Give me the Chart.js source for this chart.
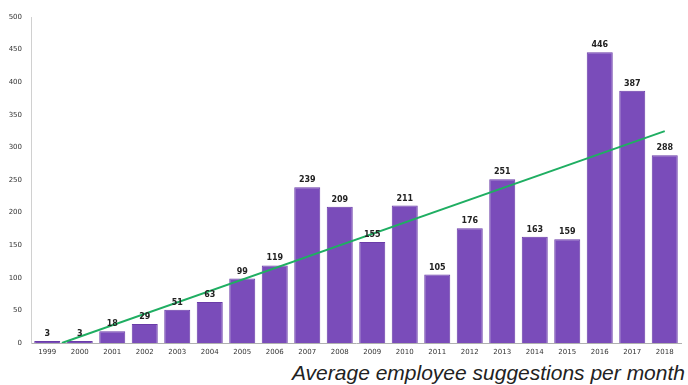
<!DOCTYPE html>
<html>
<head>
<meta charset="utf-8">
<script src="https://cdn.jsdelivr.net/npm/chart.js@4"></script>
<style>
  html, body { margin: 0; padding: 0; background: #fff; }
  #wrap { position: relative; width: 688px; height: 385px; overflow: hidden; }
  #box { position: absolute; left: 0; top: 0; width: 688px; height: 360px; }
  #caption {
    position: absolute; right: 3px; top: 361px;
    font: italic 21px "Liberation Sans", Arial, sans-serif; color: #222;
    white-space: nowrap;
  }
</style>
</head>
<body>
<div id="wrap">
  <div id="box"><canvas id="chart"></canvas></div>
  <div id="caption">Average employee suggestions per month</div>
</div>
<script>
// categories + values
const years = ["1999","2000","2001","2002","2003","2004","2005","2006","2007","2008",
               "2009","2010","2011","2012","2013","2014","2015","2016","2017","2018"];
const suggestions = [3, 3, 18, 29, 51, 63, 99, 119, 239, 209,
                     155, 211, 105, 176, 251, 163, 159, 446, 387, 288];

// trend line end points (category index, value) as seen in the picture
const trendIndex = [0.45, 19];
const trendValue = [0, 325];

const yTicks = { min: 0, max: 500, step: 50 };

/* ---------- value labels above bars ---------- */
const barLabels = {
  id: "barLabels",
  afterDatasetsDraw(chart) {
    const ctx = chart.ctx;
    const meta = chart.getDatasetMeta(0);
    ctx.save();
    ctx.font = "bold 8px 'DejaVu Sans', sans-serif";
    ctx.fillStyle = "#222";
    ctx.textAlign = "center";
    ctx.textBaseline = "bottom";
    meta.data.forEach((bar, i) => {
      ctx.fillText(suggestions[i], bar.x, bar.y - 3);
    });
    ctx.restore();
  }
};

const tickFont = { family: "'DejaVu Sans', sans-serif", size: 7 };

new Chart(document.getElementById("chart"), {
  type: "bar",
  data: {
    labels: years,
    datasets: [{
      type: "bar",
      data: suggestions,
      backgroundColor: "#7a4cba",
      borderColor: "#6a3ca8",
      borderWidth: 1,
      grouped: false,
      categoryPercentage: 0.8,
      barPercentage: 1,
      order: 2
    }, {
      type: "line",
      xAxisID: "xt",
      data: trendIndex.map((x, i) => ({ x, y: trendValue[i] })),
      borderColor: "#1fae62",
      borderWidth: 2,
      pointRadius: 0,
      fill: false,
      order: 1
    }]
  },
  options: {
    responsive: true,
    maintainAspectRatio: false,
    animation: false,
    layout: { padding: { top: 17, right: 7, left: 0, bottom: 0 } },
    plugins: {
      legend: { display: false },
      tooltip: { enabled: false }
    },
    scales: {
      x: {
        grid: { display: false, drawTicks: false },
        border: { display: true, color: "#b0b0b0" },
        ticks: { color: "#333", font: tickFont, padding: 5, maxRotation: 0 },
        afterFit(s) { s.height = 17; }
      },
      xt: {
        type: "linear",
        display: false,
        offset: false,
        grid: { offset: false },
        min: -0.5,
        max: years.length - 0.5
      },
      y: {
        min: yTicks.min,
        max: yTicks.max,
        grid: { display: false, drawTicks: false },
        border: { display: true, color: "#d0d0d0" },
        ticks: { stepSize: yTicks.step, color: "#333", font: tickFont, padding: 9 },
        afterFit(s) { s.width = 31; }
      }
    }
  },
  plugins: [barLabels]
});
</script>
</body>
</html>
